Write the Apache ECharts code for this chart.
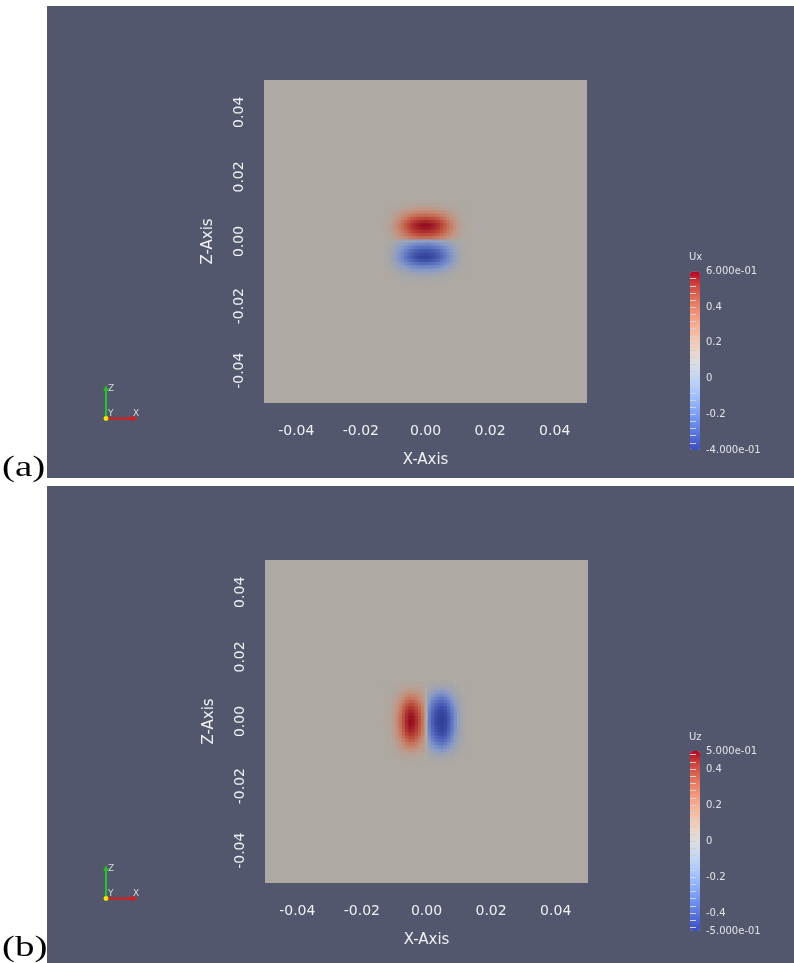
<!DOCTYPE html>
<html>
<head>
<meta charset="utf-8">
<script src="https://cdn.jsdelivr.net/npm/echarts@6/dist/echarts.min.js"></script>
<style>
  html, body { margin: 0; padding: 0; background: #ffffff; }
  #chart { width: 794px; height: 963px; }
</style>
</head>
<body>
<div id="chart"></div>
<script>
// Cell centres (m) of the sampled slice near the source
const xCells = [-0.013,-0.012,-0.011,-0.010,-0.009,-0.008,-0.007,-0.006,-0.005,-0.004,-0.003,-0.002,-0.001,0,
                0.001,0.002,0.003,0.004,0.005,0.006,0.007,0.008,0.009,0.010,0.011,0.012,0.013];

// (a) Ux on the slice, one row per z level (top to bottom)
const zCellsUx = [0.012,0.011,0.010,0.009,0.008,0.007,0.006,0.005,0.004,0.003,0.002,0.001,0,
                  -0.001,-0.002,-0.003,-0.004,-0.005,-0.006,-0.007,-0.008,-0.009,-0.010,-0.011,-0.012];
const uxRows = [
  [0,0,0,0,0,0.01,0.01,0.01,0.01,0.01,0.02,0.02,0.02,0.02,0.02,0.02,0.02,0.01,0.01,0.01,0.01,0.01,0,0,0,0,0],
  [0,0,0,0.01,0.01,0.01,0.02,0.02,0.03,0.03,0.04,0.04,0.04,0.04,0.04,0.04,0.04,0.03,0.03,0.02,0.02,0.01,0.01,0.01,0,0,0],
  [0,0,0.01,0.01,0.02,0.03,0.04,0.05,0.06,0.07,0.08,0.09,0.09,0.09,0.09,0.09,0.08,0.07,0.06,0.05,0.04,0.03,0.02,0.01,0.01,0,0],
  [0,0.01,0.01,0.02,0.04,0.06,0.08,0.10,0.12,0.13,0.15,0.16,0.17,0.17,0.17,0.16,0.15,0.13,0.12,0.10,0.08,0.06,0.04,0.02,0.01,0.01,0],
  [0,0.01,0.02,0.04,0.06,0.09,0.12,0.16,0.19,0.22,0.25,0.26,0.27,0.28,0.27,0.26,0.25,0.22,0.19,0.16,0.12,0.09,0.06,0.04,0.02,0.01,0],
  [0,0.01,0.03,0.05,0.09,0.13,0.18,0.23,0.28,0.33,0.36,0.39,0.40,0.41,0.40,0.39,0.36,0.33,0.28,0.23,0.18,0.13,0.09,0.05,0.03,0.01,0],
  [0.01,0.02,0.04,0.07,0.12,0.17,0.24,0.30,0.36,0.42,0.47,0.50,0.52,0.53,0.52,0.50,0.47,0.42,0.36,0.30,0.24,0.17,0.12,0.07,0.04,0.02,0.01],
  [0.01,0.02,0.04,0.08,0.13,0.20,0.27,0.34,0.41,0.48,0.53,0.57,0.59,0.60,0.59,0.57,0.53,0.48,0.41,0.34,0.27,0.20,0.13,0.08,0.04,0.02,0.01],
  [0.01,0.02,0.04,0.07,0.13,0.19,0.26,0.32,0.39,0.46,0.51,0.54,0.56,0.57,0.56,0.54,0.51,0.46,0.39,0.32,0.26,0.19,0.13,0.07,0.04,0.02,0.01],
  [0,0.01,0.03,0.06,0.11,0.16,0.22,0.28,0.34,0.40,0.44,0.47,0.49,0.50,0.49,0.47,0.44,0.40,0.34,0.28,0.22,0.16,0.11,0.06,0.03,0.01,0],
  [0,0.01,0.03,0.05,0.09,0.13,0.18,0.23,0.27,0.32,0.35,0.38,0.39,0.40,0.39,0.38,0.35,0.32,0.27,0.23,0.18,0.13,0.09,0.05,0.03,0.01,0],
  [0,0.01,0.02,0.04,0.06,0.09,0.12,0.15,0.19,0.22,0.24,0.26,0.27,0.27,0.27,0.26,0.24,0.22,0.19,0.15,0.12,0.09,0.06,0.04,0.02,0.01,0],
  [0,0,-0.01,-0.01,-0.02,-0.03,-0.04,-0.05,-0.06,-0.06,-0.07,-0.08,-0.08,-0.08,-0.08,-0.08,-0.07,-0.06,-0.06,-0.05,-0.04,-0.03,-0.02,-0.01,-0.01,0,0],
  [0,-0.01,-0.01,-0.02,-0.04,-0.06,-0.08,-0.10,-0.12,-0.14,-0.16,-0.17,-0.18,-0.18,-0.18,-0.17,-0.16,-0.14,-0.12,-0.10,-0.08,-0.06,-0.04,-0.02,-0.01,-0.01,0],
  [0,-0.01,-0.02,-0.03,-0.06,-0.09,-0.12,-0.15,-0.18,-0.21,-0.23,-0.25,-0.26,-0.26,-0.26,-0.25,-0.23,-0.21,-0.18,-0.15,-0.12,-0.09,-0.06,-0.03,-0.02,-0.01,0],
  [0,-0.01,-0.02,-0.04,-0.07,-0.11,-0.15,-0.19,-0.23,-0.27,-0.30,-0.32,-0.33,-0.33,-0.33,-0.32,-0.30,-0.27,-0.23,-0.19,-0.15,-0.11,-0.07,-0.04,-0.02,-0.01,0],
  [0,-0.01,-0.03,-0.05,-0.08,-0.13,-0.17,-0.22,-0.26,-0.30,-0.34,-0.36,-0.37,-0.38,-0.37,-0.36,-0.34,-0.30,-0.26,-0.22,-0.17,-0.13,-0.08,-0.05,-0.03,-0.01,0],
  [0,-0.01,-0.03,-0.05,-0.09,-0.13,-0.18,-0.23,-0.28,-0.32,-0.36,-0.38,-0.39,-0.40,-0.39,-0.38,-0.36,-0.32,-0.28,-0.23,-0.18,-0.13,-0.09,-0.05,-0.03,-0.01,0],
  [0,-0.01,-0.02,-0.05,-0.08,-0.12,-0.16,-0.20,-0.24,-0.28,-0.31,-0.33,-0.35,-0.35,-0.35,-0.33,-0.31,-0.28,-0.24,-0.20,-0.16,-0.12,-0.08,-0.05,-0.02,-0.01,0],
  [0,-0.01,-0.02,-0.04,-0.06,-0.09,-0.12,-0.16,-0.19,-0.22,-0.24,-0.26,-0.27,-0.27,-0.27,-0.26,-0.24,-0.22,-0.19,-0.16,-0.12,-0.09,-0.06,-0.04,-0.02,-0.01,0],
  [0,-0.01,-0.01,-0.02,-0.04,-0.06,-0.08,-0.10,-0.13,-0.15,-0.16,-0.17,-0.18,-0.18,-0.18,-0.17,-0.16,-0.15,-0.13,-0.10,-0.08,-0.06,-0.04,-0.02,-0.01,-0.01,0],
  [0,0,-0.01,-0.01,-0.02,-0.04,-0.05,-0.06,-0.08,-0.09,-0.10,-0.11,-0.11,-0.11,-0.11,-0.11,-0.10,-0.09,-0.08,-0.06,-0.05,-0.04,-0.02,-0.01,-0.01,0,0],
  [0,0,0,-0.01,-0.01,-0.02,-0.03,-0.03,-0.04,-0.05,-0.05,-0.06,-0.06,-0.06,-0.06,-0.06,-0.05,-0.05,-0.04,-0.03,-0.03,-0.02,-0.01,-0.01,0,0,0],
  [0,0,0,0,-0.01,-0.01,-0.01,-0.02,-0.02,-0.02,-0.02,-0.03,-0.03,-0.03,-0.03,-0.03,-0.02,-0.02,-0.02,-0.02,-0.01,-0.01,-0.01,0,0,0,0],
  [0,0,0,0,0,0,-0.01,-0.01,-0.01,-0.01,-0.01,-0.01,-0.01,-0.01,-0.01,-0.01,-0.01,-0.01,-0.01,-0.01,-0.01,0,0,0,0,0,0]
];

// (b) Uz on the slice, one row per z level (top to bottom)
const zCellsUz = [0.012,0.011,0.010,0.009,0.008,0.007,0.006,0.005,0.004,0.003,0.002,0.001,0,
                  -0.001,-0.002,-0.003,-0.004,-0.005,-0.006,-0.007,-0.008,-0.009,-0.010,-0.011,-0.012];
const uzRows = [
  [0,0,0,0,0,0.01,0.01,0.01,0.01,0.01,0.01,0.01,0.01,0,-0.01,-0.01,-0.01,-0.01,-0.01,-0.01,-0.01,-0.01,0,0,0,0,0],
  [0,0,0,0.01,0.01,0.02,0.02,0.03,0.03,0.03,0.03,0.02,0.01,0,-0.01,-0.02,-0.03,-0.03,-0.03,-0.03,-0.02,-0.02,-0.01,-0.01,0,0,0],
  [0,0,0,0.01,0.02,0.03,0.04,0.06,0.06,0.06,0.05,0.04,0.03,0,-0.03,-0.04,-0.05,-0.06,-0.06,-0.05,-0.04,-0.03,-0.02,-0.01,0,0,0],
  [0,0,0.01,0.02,0.03,0.05,0.07,0.10,0.11,0.10,0.09,0.07,0.05,0,-0.04,-0.07,-0.09,-0.10,-0.11,-0.09,-0.07,-0.05,-0.03,-0.02,-0.01,0,0],
  [0,0,0.01,0.02,0.05,0.08,0.11,0.15,0.16,0.16,0.14,0.11,0.07,0,-0.07,-0.10,-0.13,-0.15,-0.16,-0.14,-0.11,-0.07,-0.04,-0.02,-0.01,0,0],
  [0,0.01,0.02,0.03,0.06,0.10,0.15,0.20,0.22,0.21,0.18,0.14,0.09,0,-0.09,-0.14,-0.18,-0.21,-0.22,-0.19,-0.15,-0.10,-0.06,-0.03,-0.02,-0.01,0],
  [0,0.01,0.02,0.04,0.08,0.13,0.19,0.25,0.28,0.27,0.23,0.18,0.12,0,-0.11,-0.18,-0.22,-0.26,-0.27,-0.24,-0.19,-0.13,-0.08,-0.04,-0.02,-0.01,0],
  [0,0.01,0.02,0.05,0.10,0.16,0.23,0.30,0.34,0.33,0.28,0.22,0.14,0,-0.14,-0.21,-0.27,-0.31,-0.33,-0.29,-0.23,-0.15,-0.09,-0.05,-0.02,-0.01,0],
  [0,0.01,0.03,0.06,0.11,0.18,0.27,0.35,0.40,0.38,0.33,0.26,0.17,0,-0.16,-0.25,-0.31,-0.36,-0.38,-0.34,-0.26,-0.18,-0.11,-0.06,-0.03,-0.01,0],
  [0,0.01,0.03,0.07,0.12,0.20,0.30,0.39,0.44,0.42,0.36,0.28,0.19,0,-0.18,-0.27,-0.35,-0.41,-0.43,-0.38,-0.29,-0.20,-0.12,-0.06,-0.03,-0.01,0],
  [0,0.01,0.03,0.07,0.13,0.22,0.32,0.42,0.47,0.45,0.39,0.30,0.20,0,-0.19,-0.29,-0.37,-0.43,-0.46,-0.40,-0.31,-0.21,-0.13,-0.07,-0.03,-0.01,0],
  [0,0.01,0.03,0.07,0.14,0.23,0.33,0.43,0.49,0.47,0.40,0.32,0.21,0,-0.20,-0.30,-0.39,-0.45,-0.47,-0.42,-0.32,-0.22,-0.13,-0.07,-0.03,-0.01,0],
  [0,0.02,0.04,0.08,0.14,0.23,0.34,0.44,0.50,0.48,0.41,0.32,0.21,0,-0.20,-0.31,-0.39,-0.46,-0.48,-0.42,-0.33,-0.22,-0.13,-0.07,-0.03,-0.01,0],
  [0,0.01,0.03,0.07,0.14,0.23,0.33,0.43,0.49,0.47,0.40,0.32,0.21,0,-0.20,-0.30,-0.39,-0.45,-0.47,-0.42,-0.32,-0.22,-0.13,-0.07,-0.03,-0.01,0],
  [0,0.01,0.03,0.07,0.13,0.22,0.32,0.42,0.47,0.45,0.39,0.30,0.20,0,-0.19,-0.29,-0.37,-0.43,-0.46,-0.40,-0.31,-0.21,-0.13,-0.07,-0.03,-0.01,0],
  [0,0.01,0.03,0.07,0.12,0.20,0.30,0.39,0.44,0.42,0.36,0.28,0.19,0,-0.18,-0.27,-0.35,-0.41,-0.43,-0.38,-0.29,-0.20,-0.12,-0.06,-0.03,-0.01,0],
  [0,0.01,0.03,0.06,0.11,0.18,0.27,0.35,0.40,0.38,0.33,0.26,0.17,0,-0.16,-0.25,-0.31,-0.36,-0.38,-0.34,-0.26,-0.18,-0.11,-0.06,-0.03,-0.01,0],
  [0,0.01,0.02,0.05,0.10,0.16,0.23,0.30,0.34,0.33,0.28,0.22,0.14,0,-0.14,-0.21,-0.27,-0.31,-0.33,-0.29,-0.23,-0.15,-0.09,-0.05,-0.02,-0.01,0],
  [0,0.01,0.02,0.04,0.08,0.13,0.19,0.25,0.28,0.27,0.23,0.18,0.12,0,-0.11,-0.18,-0.22,-0.26,-0.27,-0.24,-0.19,-0.13,-0.08,-0.04,-0.02,-0.01,0],
  [0,0.01,0.02,0.03,0.06,0.10,0.15,0.20,0.22,0.21,0.18,0.14,0.09,0,-0.09,-0.14,-0.18,-0.21,-0.22,-0.19,-0.15,-0.10,-0.06,-0.03,-0.02,-0.01,0],
  [0,0,0.01,0.02,0.05,0.08,0.11,0.15,0.16,0.16,0.14,0.11,0.07,0,-0.07,-0.10,-0.13,-0.15,-0.16,-0.14,-0.11,-0.07,-0.04,-0.02,-0.01,0,0],
  [0,0,0.01,0.02,0.03,0.05,0.07,0.10,0.11,0.10,0.09,0.07,0.05,0,-0.04,-0.07,-0.09,-0.10,-0.11,-0.09,-0.07,-0.05,-0.03,-0.02,-0.01,0,0],
  [0,0,0,0.01,0.02,0.03,0.04,0.06,0.06,0.06,0.05,0.04,0.03,0,-0.03,-0.04,-0.05,-0.06,-0.06,-0.05,-0.04,-0.03,-0.02,-0.01,0,0,0],
  [0,0,0,0.01,0.01,0.02,0.02,0.03,0.03,0.03,0.03,0.02,0.01,0,-0.01,-0.02,-0.03,-0.03,-0.03,-0.03,-0.02,-0.02,-0.01,-0.01,0,0,0],
  [0,0,0,0,0,0.01,0.01,0.01,0.01,0.01,0.01,0.01,0.01,0,-0.01,-0.01,-0.01,-0.01,-0.01,-0.01,-0.01,-0.01,0,0,0,0,0]
];

// Axis tick labels
const xTicks = [-0.04, -0.02, 0, 0.02, 0.04];
const zTicks = [-0.04, -0.02, 0, 0.02, 0.04];

// Colour-bar ranges, labels and tick marks
const uxRange = [-0.4, 0.6];
const uxBarLabels = [-0.4, -0.2, 0, 0.2, 0.4, 0.6];
const uxBarTicks = [-0.36,-0.32,-0.28,-0.24,-0.2,-0.16,-0.12,-0.08,-0.04,0,0.04,0.08,0.12,0.16,0.2,0.24,0.28,0.32,0.36,0.4,0.44,0.48,0.52,0.56];
const uzRange = [-0.5, 0.5];
const uzBarLabels = [-0.5, -0.4, -0.2, 0, 0.2, 0.4, 0.5];
const uzBarTicks = [-0.48,-0.44,-0.4,-0.36,-0.32,-0.28,-0.24,-0.2,-0.16,-0.12,-0.08,-0.04,0,0.04,0.08,0.12,0.16,0.2,0.24,0.28,0.32,0.36,0.4,0.44,0.48];

// Cool-to-warm map shown on the colour bars
const coolWarm = ['#3b4cc0','#4d68d7','#6282ea','#779af7','#8db0fe','#a3c2ff','#b8d0f9','#ccd9ee','#dddddd',
                  '#ecd3c5','#f5c4ad','#f7b194','#f49a7b','#ec7f63','#de604d','#cb3e38','#b40426'];
// Lit surface colours used on the slice (stops every 0.1 of the data range)
const litUx = ['#34429b','#4c62b4','#6980c6','#8a9cc8','#aeaaa3','#c29684','#c77f67','#c4644e','#bc483a','#ac2d2d','#960e22'];
const litUz = ['#303c96','#3a4aa5','#4b60b6','#647cc6','#889ac8','#aeaaa3','#c29684','#c77a62','#c05844','#b03430','#960e22'];

const BG = '#52576e';
const SURFACE = '#aeaaa3';
const TEXT = '#f0f0f0';
const FONT = 'DejaVu Sans';
const HALF = 0.0005; // half width of one sampled cell

function buildCells(xs, zs, rows) {
  const out = [];
  zs.forEach((z, i) => {
    xs.forEach((x, j) => {
      const v = rows[i][j];
      if (v !== undefined) out.push([x, z, v]);
    });
  });
  return out;
}

function renderCell(params, api) {
  const x = api.value(0), z = api.value(1);
  const p0 = api.coord([x - HALF, z + HALF]);
  const p1 = api.coord([x + HALF, z - HALF]);
  const c = api.visual('color');
  return {
    type: 'rect',
    shape: { x: p0[0], y: p0[1], width: p1[0] - p0[0], height: p1[1] - p0[1] },
    style: { fill: c, stroke: c, lineWidth: 0.8 }
  };
}

function sci(v) {
  const parts = v.toExponential(3).split('e');
  const e = parseInt(parts[1], 10);
  return parts[0] + 'e' + (e < 0 ? '-' : '+') + String(Math.abs(e)).padStart(2, '0');
}

function plotXAxis(gi) {
  return {
    gridIndex: gi, type: 'value', min: -0.05, max: 0.05,
    name: 'X-Axis', nameLocation: 'middle', nameGap: 50,
    nameTextStyle: { color: TEXT, fontFamily: FONT, fontSize: 15 },
    axisLine: { show: false }, axisTick: { show: false }, splitLine: { show: false },
    axisLabel: { customValues: xTicks, formatter: v => v.toFixed(2), margin: 21,
                 color: TEXT, fontFamily: FONT, fontSize: 14 }
  };
}
function plotYAxis(gi) {
  return {
    gridIndex: gi, type: 'value', min: -0.05, max: 0.05,
    name: 'Z-Axis', nameLocation: 'middle', nameGap: 48,
    nameTextStyle: { color: TEXT, fontFamily: FONT, fontSize: 15 },
    axisLine: { show: false }, axisTick: { show: false }, splitLine: { show: false },
    axisLabel: { customValues: zTicks, formatter: v => v.toFixed(2), margin: 18, rotate: 90,
                 color: TEXT, fontFamily: FONT, fontSize: 14 }
  };
}
function barYAxis(gi, range, labels, ticks) {
  return {
    gridIndex: gi, type: 'value', min: range[0], max: range[1], position: 'right', z: 10,
    axisLine: { show: false }, splitLine: { show: false },
    axisTick: { show: true, customValues: ticks, length: 6, lineStyle: { color: '#d0d0d0', width: 1 } },
    axisLabel: { customValues: labels, margin: 9, color: '#e4e4e4', fontFamily: FONT, fontSize: 10,
                 formatter: v => (v === range[0] || v === range[1]) ? sci(v) : String(v) }
  };
}
function hiddenXAxis(gi) {
  return { gridIndex: gi, type: 'value', min: 0, max: 1, show: false };
}

function triad(oy) {
  const g = '#22c822', r = '#e01818';
  return [
    { type: 'line', shape: { x1: 106, y1: 418 + oy, x2: 106, y2: 390 + oy }, style: { stroke: g, lineWidth: 2 } },
    { type: 'polygon', shape: { points: [[103.3, 391 + oy], [108.7, 391 + oy], [106, 385 + oy]] }, style: { fill: g } },
    { type: 'line', shape: { x1: 106, y1: 418.5 + oy, x2: 132, y2: 418.5 + oy }, style: { stroke: r, lineWidth: 2 } },
    { type: 'polygon', shape: { points: [[131, 415.8 + oy], [131, 421.2 + oy], [138, 418.5 + oy]] }, style: { fill: r } },
    { type: 'circle', shape: { cx: 106, cy: 418.5 + oy, r: 2.4 }, style: { fill: '#ffe400' } },
    { type: 'text', x: 108, y: 384 + oy, style: { text: 'Z', fill: '#d8d8d8', font: '9px "DejaVu Sans"' } },
    { type: 'text', x: 108, y: 409 + oy, style: { text: 'Y', fill: '#d8d8d8', font: '9px "DejaVu Sans"' } },
    { type: 'text', x: 133, y: 409 + oy, style: { text: 'X', fill: '#d8d8d8', font: '9px "DejaVu Sans"' } }
  ];
}

const cellsUx = buildCells(xCells, zCellsUx, uxRows);
const cellsUz = buildCells(xCells, zCellsUz, uzRows);

const chart = echarts.init(document.getElementById('chart'), null, { renderer: 'canvas' });

chart.setOption({
  animation: false,
  backgroundColor: '#ffffff',
  graphic: {
    elements: [
      { type: 'rect', z: -10, silent: true, shape: { x: 47, y: 6, width: 747, height: 472 }, style: { fill: BG } },
      { type: 'rect', z: -10, silent: true, shape: { x: 47, y: 486, width: 747, height: 477 }, style: { fill: BG } },
      { type: 'text', x: 2, y: 483, scaleX: 1.3, silent: true,
        style: { text: '(a)', fill: '#000000', font: '30px "Liberation Serif"', verticalAlign: 'bottom' } },
      { type: 'text', x: 2, y: 963, scaleX: 1.3, silent: true,
        style: { text: '(b)', fill: '#000000', font: '30px "Liberation Serif"', verticalAlign: 'bottom' } }
    ].concat(triad(0), triad(480))
  },
  title: [
    { text: 'Ux', left: 689, top: 252, padding: 0,
      textStyle: { color: '#e4e4e4', fontSize: 10, fontWeight: 'normal', fontFamily: FONT } },
    { text: 'Uz', left: 689, top: 732, padding: 0,
      textStyle: { color: '#e4e4e4', fontSize: 10, fontWeight: 'normal', fontFamily: FONT } }
  ],
  grid: [
    { left: 264, top: 80, width: 323, height: 323, show: true, backgroundColor: SURFACE, borderWidth: 0 },
    { left: 265, top: 560, width: 323, height: 323, show: true, backgroundColor: SURFACE, borderWidth: 0 },
    { left: 690, top: 271.5, width: 7, height: 178.5 },
    { left: 690, top: 751, width: 7, height: 180 }
  ],
  xAxis: [plotXAxis(0), plotXAxis(1), hiddenXAxis(2), hiddenXAxis(3)],
  yAxis: [plotYAxis(0), plotYAxis(1),
          barYAxis(2, uxRange, uxBarLabels, uxBarTicks),
          barYAxis(3, uzRange, uzBarLabels, uzBarTicks)],
  visualMap: [
    { type: 'continuous', seriesIndex: 0, dimension: 2, min: uxRange[0], max: uxRange[1],
      inRange: { color: litUx }, controller: { inRange: { color: coolWarm } },
      left: 690, top: 271.5, itemWidth: 10, itemHeight: 178.5, padding: 0, calculable: false, hoverLink: false },
    { type: 'continuous', seriesIndex: 1, dimension: 2, min: uzRange[0], max: uzRange[1],
      inRange: { color: litUz }, controller: { inRange: { color: coolWarm } },
      left: 690, top: 751, itemWidth: 10, itemHeight: 180, padding: 0, calculable: false, hoverLink: false }
  ],
  series: [
    { type: 'custom', coordinateSystem: 'cartesian2d', xAxisIndex: 0, yAxisIndex: 0,
      data: cellsUx, renderItem: renderCell, silent: true, encode: { x: 0, y: 1 } },
    { type: 'custom', coordinateSystem: 'cartesian2d', xAxisIndex: 1, yAxisIndex: 1,
      data: cellsUz, renderItem: renderCell, silent: true, encode: { x: 0, y: 1 } }
  ]
});
</script>
</body>
</html>
